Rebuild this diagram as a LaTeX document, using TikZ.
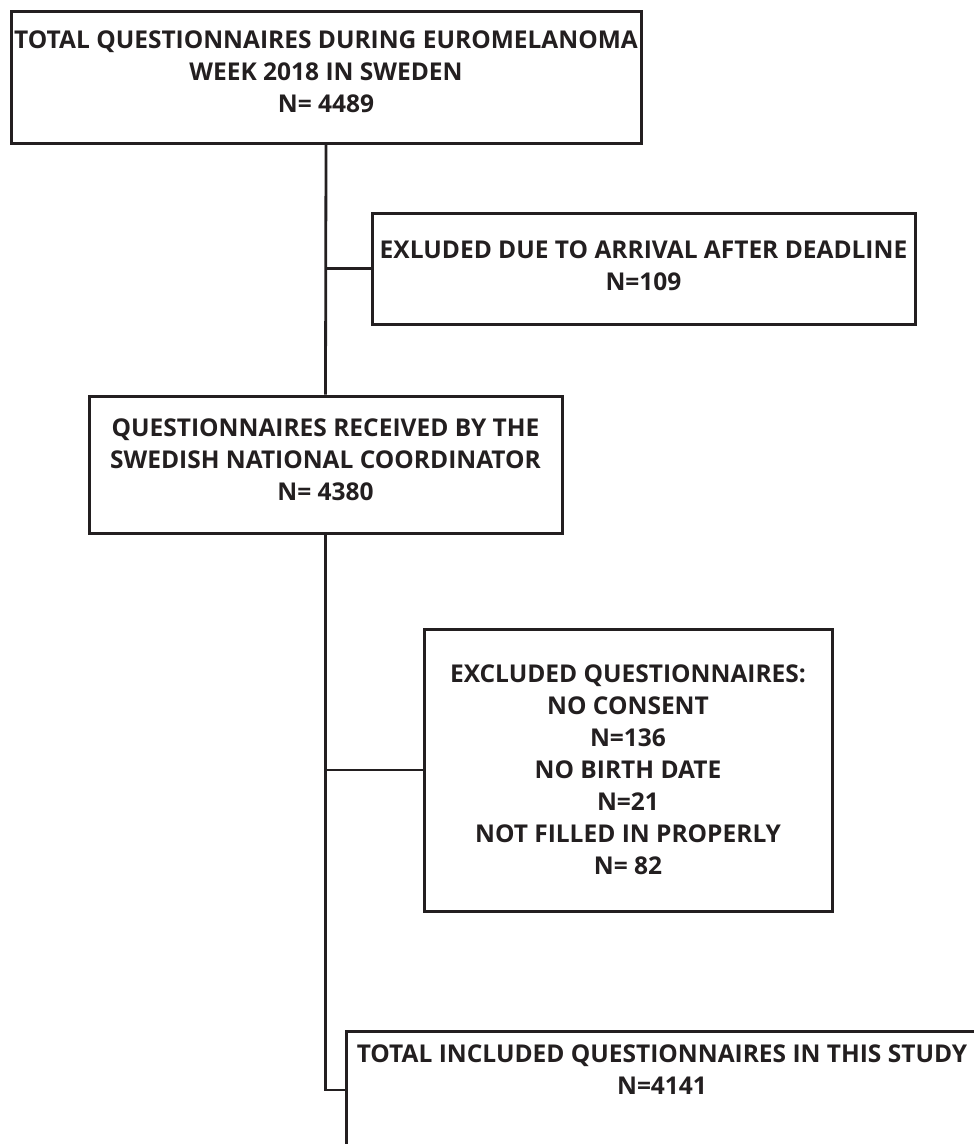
\documentclass[tikz,border=0pt]{standalone}
\usepackage{fontspec}
\setmainfont{Open Sans}
\usepackage{tikz}
\definecolor{ink}{RGB}{35,31,32}

\begin{document}
\begin{tikzpicture}[x=1pt,y=-1pt,
    box/.style={draw=ink,line width=3pt,fill=white,align=center,inner sep=0pt,
        text=ink,font=\fontsize{24.5}{32}\selectfont\bfseries},
    link/.style={draw=ink,line width=2.8pt}]
    \useasboundingbox (0,0) rectangle (974,1144);
    \node[box,minimum width=630,minimum height=132] (total) at (326,77)
        {TOTAL QUESTIONNAIRES DURING EUROMELANOMA\\WEEK 2018 IN SWEDEN\\N= 4489\\[-22pt]\mbox{}};
    \node[box,minimum width=543,minimum height=111] (late) at (643.5,268.5)
        {EXLUDED DUE TO ARRIVAL AFTER DEADLINE\\N=109\\[-26pt]\mbox{}};
    \node[box,minimum width=473,minimum height=137] (recv) at (325.5,464.5)
        {QUESTIONNAIRES RECEIVED BY THE\\SWEDISH NATIONAL COORDINATOR\\N= 4380\\[-22pt]\mbox{}};
    \node[box,minimum width=408,minimum height=282] (excl) at (628,770)
        {EXCLUDED QUESTIONNAIRES:\\NO CONSENT\\N=136\\NO BIRTH DATE\\N=21\\NOT FILLED IN PROPERLY\\N= 82};
    \node[box,minimum width=632,minimum height=118] (final) at (662,1090)
        {TOTAL INCLUDED QUESTIONNAIRES IN THIS STUDY\\N=4141\\[8pt]\mbox{}};
    \draw[link] (total.south) -- (recv.north);
    \draw[link] (total.south |- late.west) -- (late.west);
    \draw[link] (recv.south) |- (final.west);
    \draw[link] (recv.south |- excl.west) -- (excl.west);
\end{tikzpicture}
\end{document}
